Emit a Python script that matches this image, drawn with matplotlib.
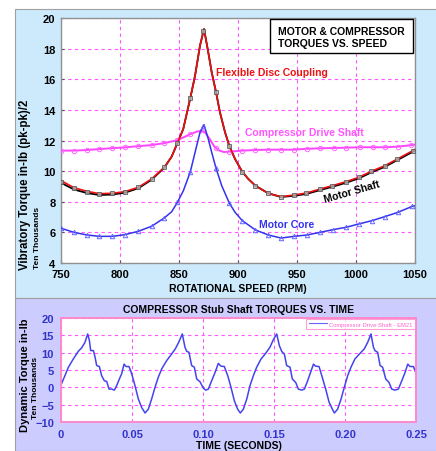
import matplotlib
matplotlib.use("Agg")
import matplotlib.pyplot as plt
from matplotlib.patches import Rectangle

plt.rcParams["font.family"] = ["Liberation Sans", "DejaVu Sans"]
plt.rcParams["font.weight"] = "bold"

# ---- top chart: torque vs speed (ten thousands in-lb)
rpm_red = [750, 761, 772, 782.5, 793.5, 804, 815.5, 826.8, 837.5, 843.8, 848.6, 853.6,
           859.6, 863.6, 867.8, 871.2, 874.8, 877.7, 881.4, 884.7, 889, 892.6, 897.5,
           903.6, 908.7, 914.7, 925.7, 936.4, 947.5, 958, 969.5, 980, 991.5, 1002.5,
           1013, 1024.6, 1035, 1048, 1050]
coupling = [9.38, 8.92, 8.68, 8.53, 8.55, 8.66, 8.94, 9.49, 10.25, 10.95, 11.82, 12.75,
            14.78, 16.23, 18.2, 19.28, 17.76, 16.46, 15.15, 13.84, 12.54, 11.66, 10.79,
            9.96, 9.49, 9.05, 8.55, 8.33, 8.44, 8.57, 8.83, 9.05, 9.31, 9.6,
            9.99, 10.36, 10.79, 11.33, 11.42]
motor_shaft = [9.24, 8.80, 8.57, 8.44, 8.47, 8.59, 8.88, 9.44, 10.22, 10.95, 11.82, 12.75,
               14.78, 16.23, 18.2, 19.28, 17.76, 16.46, 15.15, 13.84, 12.54, 11.66, 10.79,
               9.96, 9.49, 9.05, 8.55, 8.31, 8.39, 8.51, 8.76, 8.98, 9.24, 9.53,
               9.92, 10.29, 10.72, 11.26, 11.36]

sq_rpm = [750, 761, 772, 782.5, 793.5, 804, 815.5, 826.8, 837.5, 848.6, 859.6, 870.3,
          881.4, 892.6, 903.6, 914.7, 925.7, 936.4, 947.5, 958, 969.5, 980, 991.5,
          1002.5, 1013, 1024.6, 1035, 1048]
sq_val = [9.31, 8.88, 8.66, 8.51, 8.55, 8.66, 8.94, 9.49, 10.25, 11.82, 14.78, 19.17,
          15.15, 11.66, 9.96, 9.05, 8.55, 8.33, 8.44, 8.57, 8.83, 9.05, 9.31,
          9.6, 9.99, 10.36, 10.79, 11.33]

rpm_mag = [750, 761, 772, 782.5, 793.5, 804, 815.5, 826.8, 837.5, 848.6, 859.6, 865,
           869.6, 872, 876, 880, 884, 888, 892.6, 903.6, 914.7, 925.7, 936.4, 947.5,
           958.5, 969.5, 981, 991.5, 1003, 1014, 1024.6, 1036, 1047, 1050]
drive_shaft = [11.34, 11.34, 11.38, 11.44, 11.5, 11.55, 11.63, 11.70, 11.83, 12.02, 12.41, 12.58,
               12.64, 12.54, 12.1, 11.6, 11.35, 11.25, 11.27, 11.34, 11.38, 11.40, 11.40, 11.40,
               11.46, 11.49, 11.51, 11.53, 11.56, 11.56, 11.56, 11.60, 11.70, 11.73]
circ_rpm = [750, 761, 772, 782.5, 793.5, 804, 815.5, 826.8, 837.5, 848.6, 859.6,
            881.4, 892.6, 903.6, 914.7, 925.7, 936.4, 947.5, 958.5, 969.5, 981, 991.5,
            1003, 1014, 1024.6, 1036, 1047]
circ_val = [11.34, 11.34, 11.38, 11.44, 11.5, 11.55, 11.63, 11.70, 11.83, 12.02, 12.41,
            11.5, 11.27, 11.34, 11.38, 11.40, 11.40, 11.40, 11.46, 11.49, 11.51, 11.53,
            11.56, 11.56, 11.56, 11.60, 11.70]

rpm_blue = [750, 761, 772, 782.5, 793.5, 804, 815.5, 826.8, 837.5, 843.8, 848.6, 853.7,
            859.6, 865, 867.8, 871.2, 874.8, 877.7, 881.4, 886.2, 892.6, 897.5, 903.6,
            914.7, 925.7, 936.4, 947.5, 958.5, 969.5, 980.7, 991.4, 1002.5, 1013.7,
            1024.5, 1035.5, 1047.7, 1050]
motor_core = [6.27, 6.0, 5.83, 5.74, 5.74, 5.85, 6.07, 6.40, 6.94, 7.35, 7.96, 8.72,
              9.96, 11.66, 12.53, 13.03, 12.1, 11.23, 10.18, 9.05, 7.92, 7.31, 6.77,
              6.16, 5.83, 5.63, 5.74, 5.83, 6.0, 6.18, 6.33, 6.55, 6.77,
              7.03, 7.31, 7.70, 7.74]
tri_rpm = [750, 761, 772, 782.5, 793.5, 804, 815.5, 826.8, 837.5, 848.6, 859.6, 870.6,
           881.4, 892.6, 903.6, 914.7, 925.7, 936.4, 947.5, 958.5, 969.5, 980.7, 991.4,
           1002.5, 1013.7, 1024.5, 1035.5, 1047.7]
tri_val = [6.27, 6.0, 5.83, 5.74, 5.74, 5.85, 6.07, 6.40, 6.94, 7.96, 9.96, 12.97,
           10.18, 7.92, 6.77, 6.16, 5.83, 5.63, 5.74, 5.83, 6.0, 6.18, 6.33,
           6.55, 6.77, 7.03, 7.31, 7.70]

# ---- bottom chart: compressor stub shaft torque vs time
time_s = [0.0, 0.0028, 0.0052, 0.0087, 0.0122, 0.0146, 0.0169, 0.0188, 0.0200, 0.0209,
          0.0228, 0.0240, 0.0251, 0.0270, 0.0286, 0.0305, 0.0322, 0.0338, 0.0357, 0.0376,
          0.0392, 0.0411, 0.0427, 0.0444, 0.0458, 0.0479, 0.0498, 0.0521, 0.0545, 0.0568,
          0.0592, 0.0615, 0.0638, 0.0662, 0.0685, 0.0709, 0.0744, 0.0779, 0.0805, 0.0829,
          0.0854, 0.0873, 0.0885, 0.0901, 0.0920, 0.0939, 0.0956, 0.0979, 0.1002, 0.1019,
          0.1038, 0.1061, 0.1085, 0.1108, 0.1127, 0.1150, 0.1174, 0.1197, 0.1221, 0.1244,
          0.1263, 0.1284, 0.1308, 0.1331, 0.1355, 0.1378, 0.1409, 0.1441, 0.1472, 0.1495,
          0.1519, 0.1538, 0.1554, 0.1573, 0.1589, 0.1613, 0.1629, 0.1653, 0.1671, 0.1695,
          0.1714, 0.1737, 0.1754, 0.1778, 0.1793, 0.1817, 0.1840, 0.1864, 0.1888, 0.1911,
          0.1925, 0.1948, 0.1972, 0.1995, 0.2019, 0.2042, 0.2070, 0.2106, 0.2136, 0.2160,
          0.2183, 0.2200, 0.2211, 0.2230, 0.2247, 0.2265, 0.2287, 0.2310, 0.2329, 0.2352,
          0.2376, 0.2400, 0.2423, 0.2442, 0.2458, 0.2482, 0.2498]
dyn_torque = [0.7, 3.4, 5.8, 8.2, 10.4, 11.4, 13.0, 15.4, 13.5, 10.6,
              10.6, 8.7, 6.3, 6.0, 3.4, 1.9, 1.7, -0.5, -0.5, -0.8,
              0.5, 2.4, 3.9, 6.7, 6.0, 6.0, 3.9, 0.5, -3.4, -5.8,
              -7.4, -6.3, -3.4, 0.0, 2.9, 5.3, 7.7, 9.6, 11.1, 13.0,
              15.4, 11.6, 10.4, 10.1, 6.3, 5.8, 2.4, 1.6, -0.2, -0.8,
              -0.5, 1.9, 4.3, 6.9, 6.1, 6.0, 3.4, 0.0, -3.9, -6.3,
              -7.4, -6.3, -3.4, 0.5, 3.4, 5.8, 8.2, 9.8, 11.6, 13.7,
              15.4, 12.0, 10.4, 9.6, 6.3, 5.8, 2.4, 1.4, -0.5, -0.8,
              -0.5, 1.9, 3.9, 6.7, 6.1, 6.0, 2.9, -0.5, -4.3, -6.3,
              -7.4, -6.3, -3.4, 0.0, 3.4, 5.8, 8.2, 9.8, 11.1, 13.0,
              15.4, 11.6, 10.6, 10.1, 6.3, 5.8, 2.4, 1.4, -0.5, -0.8,
              -0.5, 1.9, 4.3, 6.7, 6.0, 6.0, 4.3]

W, H = 436, 452
fig = plt.figure(figsize=(W / 100, H / 100), dpi=100)
fig.patch.set_facecolor("white")

# background panels, kept behind the axes
split = 1 - 299 / H
top_panel = Rectangle((15 / W, split), 1, (299 - 10) / H, transform=fig.transFigure,
                      facecolor="#cdeafc", edgecolor="#a0a0a0", linewidth=0.8)
bot_panel = Rectangle((15 / W, 0), 1, split, transform=fig.transFigure,
                      facecolor="#ccccff", edgecolor="#a0a0a0", linewidth=0.8)
for p in (top_panel, bot_panel):
    p.set_zorder(-10)
    fig.add_artist(p)

GRID = "#ff55ff"
FS = 7.5

# ---------------- top chart
ax = fig.add_axes([61 / W, 1 - 264 / H, 354 / W, 245 / H])
ax.set_facecolor("white")
ax.plot(rpm_red, motor_shaft, color="black", lw=1.3, zorder=3)
ax.plot(rpm_red, coupling, color="#ee1111", lw=1.2, zorder=4)
ax.plot(sq_rpm, sq_val, ls="none", marker="s", ms=3.2, mfc="#b0b0b0", mec="#555555",
        mew=0.7, alpha=0.8, zorder=5)
ax.plot(rpm_mag, drive_shaft, color="#ff44ff", lw=1.4, zorder=3)
ax.plot(circ_rpm, circ_val, ls="none", marker="o", ms=3.2, mfc="none", mec="#ff66ff",
        mew=0.7, zorder=3)
ax.plot([869.6], [12.64], ls="none", marker="x", ms=3.5, mec="#ff66ff", mew=0.8, zorder=3)
ax.plot(rpm_blue, motor_core, color="#3333ee", lw=1.1, zorder=3)
ax.plot(tri_rpm, tri_val, ls="none", marker="^", ms=3.2, mfc="none", mec="#6666ff",
        mew=0.7, zorder=3)

ax.set_xlim(750, 1050)
ax.set_ylim(4, 20)
ax.set_xticks(range(750, 1051, 50))
ax.set_yticks(range(4, 21, 2))
ax.grid(True, color=GRID, ls=(0, (3, 3)), lw=0.8)
ax.tick_params(labelsize=8, length=2, direction="in", color="#555555", pad=4)
for s in ax.spines.values():
    s.set_color("#909090")
    s.set_linewidth(1.0)
ax.set_xlabel("ROTATIONAL SPEED (RPM)", fontsize=FS, fontweight="bold", labelpad=3)

ax.text(881.4, 16.47, "Flexible Disc Coupling", color="#ee1111", fontsize=FS,
        fontweight="bold", va="center", ha="left")
ax.text(905.9, 12.54, "Compressor Drive Shaft", color="#ff55ff", fontsize=FS,
        fontweight="bold", va="center", ha="left")
ax.text(918, 6.55, "Motor Core", color="#3333ee", fontsize=FS,
        fontweight="bold", va="center", ha="left")
ax.text(996.4, 8.72, "Motor Shaft", color="black", fontsize=FS, fontweight="bold",
        va="center", ha="center", rotation=16)

ax.add_patch(Rectangle((0.590, 0.857), 0.404, 0.139, transform=ax.transAxes,
                       facecolor="white", edgecolor="black", lw=1.0, zorder=6))
ax.text(0.613, 0.947, "MOTOR & COMPRESSOR", transform=ax.transAxes, fontsize=FS,
        fontweight="bold", va="center", ha="left", zorder=7)
ax.text(0.613, 0.898, "TORQUES VS. SPEED", transform=ax.transAxes, fontsize=FS,
        fontweight="bold", va="center", ha="left", zorder=7)

fig.text(25 / W, 1 - 185 / H, "Vibratory Torque in-lb (pk-pk)/2", rotation=90,
         fontsize=8.3, fontweight="bold", va="center", ha="center")
fig.text(37 / W, 1 - 238 / H, "Ten Thousands", rotation=90, fontsize=6,
         fontweight="bold", va="center", ha="center")

# ---------------- bottom chart
TICKBLUE = "#3333cc"
bx = fig.add_axes([61 / W, 1 - 423 / H, 355 / W, 104 / H])
bx.set_facecolor("white")
bx.plot(time_s, dyn_torque, color="#4444ee", lw=1.1,
        label="Compressor Drive Shaft - EM21")
bx.set_xlim(0, 0.25)
bx.set_ylim(-10, 20)
bx.set_xticks([0, 0.05, 0.10, 0.15, 0.20, 0.25])
bx.set_xticklabels(["0", "0.05", "0.10", "0.15", "0.20", "0.25"])
bx.set_yticks(range(-10, 21, 5))
bx.grid(True, color=GRID, ls=(0, (3, 3)), lw=0.8)
bx.tick_params(labelsize=8, length=0, pad=5, labelcolor=TICKBLUE)
for s in bx.spines.values():
    s.set_color("#ff88cc")
    s.set_linewidth(1.4)
bx.set_title("COMPRESSOR Stub Shaft TORQUES VS. TIME", fontsize=FS, fontweight="bold", pad=4)
bx.set_xlabel("TIME (SECONDS)", fontsize=FS, fontweight="bold", labelpad=1)

leg = bx.legend(loc="upper right", bbox_to_anchor=(0.997, 0.995), fontsize=4.2,
                frameon=True, fancybox=False, borderaxespad=0, handlelength=3.2,
                handletextpad=0.2, borderpad=0.5)
leg.get_frame().set_edgecolor("#ff88cc")
leg.get_frame().set_linewidth(0.8)
for t in leg.get_texts():
    t.set_color("#ff66cc")
    t.set_fontweight("normal")
for lh in leg.get_lines():
    lh.set_linewidth(0.8)
    lh.set_color("#6666ff")

fig.text(25 / W, 1 - 375 / H, "Dynamic Torque in-lb", rotation=90, fontsize=8,
         fontweight="bold", va="center", ha="center")
fig.text(35.5 / W, 1 - 388 / H, "Ten Thousands", rotation=90, fontsize=6,
         fontweight="bold", va="center", ha="center")

fig.savefig("out.png", dpi=100, facecolor=fig.get_facecolor())
